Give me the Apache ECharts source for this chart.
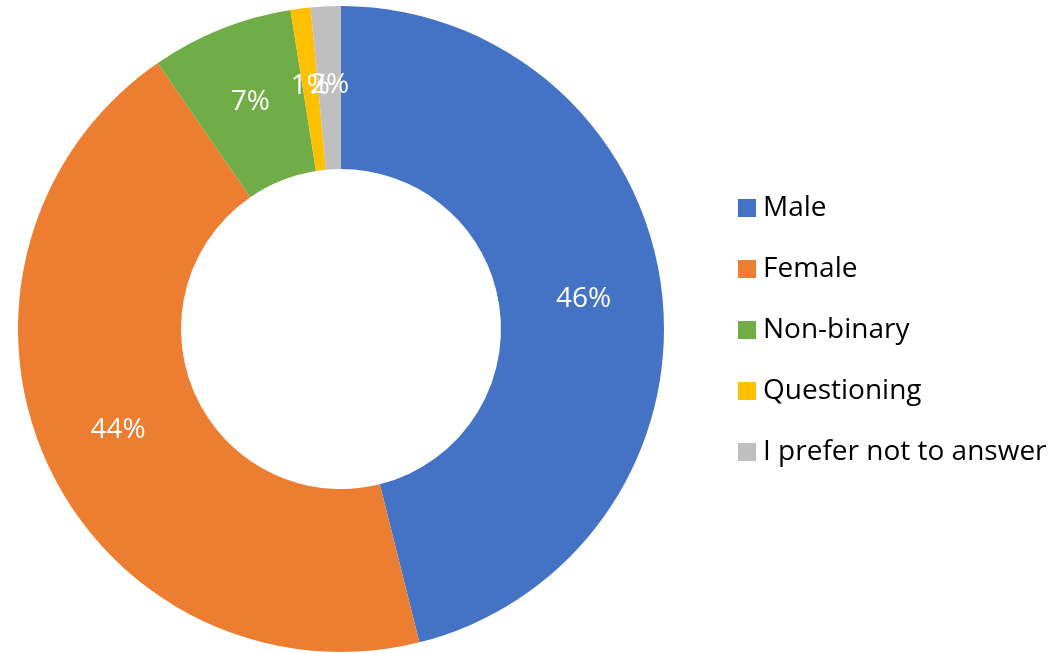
<!DOCTYPE html>
<html>
<head>
<meta charset="utf-8">
<script src="https://cdn.jsdelivr.net/npm/echarts@6/dist/echarts.min.js"></script>
<style>
  html, body { margin: 0; padding: 0; background: #fff; }
  #chart { width: 1061px; height: 653px; }
</style>
</head>
<body>
<div id="chart"></div>
<script>
// share of respondents per answer
var categories = ['Male', 'Female', 'Non-binary', 'Questioning', 'I prefer not to answer'];
var shares = [46.1, 44.3, 7.1, 1.0, 1.5];
var colors = ['#4472C4', '#ED7D31', '#70AD47', '#FFC000', '#BFBFBF'];

var font = '"Open Sans", sans-serif';

var myChart = echarts.init(document.getElementById('chart'));

myChart.setOption({
    animation: false,
    color: colors,
    legend: {
        orient: 'vertical',
        left: 738,
        top: 194,
        padding: 0,
        itemWidth: 18,
        itemHeight: 18,
        itemGap: 33,
        icon: 'rect',
        data: categories,
        textStyle: {
            fontFamily: font,
            fontSize: 28,
            color: '#000',
            padding: [0, 0, 0, 2]
        }
    },
    series: [{
        type: 'pie',
        center: [341, 329],
        radius: [160, 323],
        startAngle: 90,
        clockwise: true,
        avoidLabelOverlap: false,
        labelLayout: { hideOverlap: false },
        label: {
            show: true,
            position: 'inside',
            color: '#fff',
            fontFamily: font,
            fontSize: 28,
            formatter: function (p) {
                return Math.round(p.percent) + '%';
            }
        },
        labelLine: { show: false },
        itemStyle: { borderWidth: 0 },
        emphasis: { disabled: true },
        data: categories.map(function (name, i) {
            return { name: name, value: shares[i] };
        })
    }]
});
</script>
</body>
</html>
